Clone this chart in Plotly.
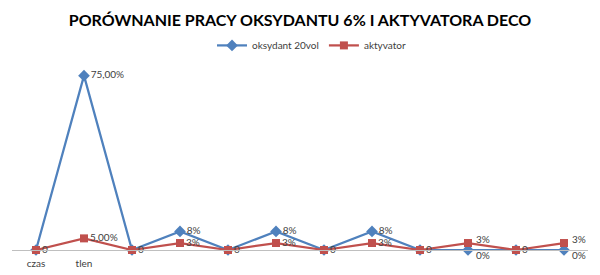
import plotly.graph_objects as go

categories = ["czas", "tlen", "c3", "c4", "c5", "c6", "c7", "c8", "c9", "c10", "c11", "c12"]
tick_labels = ["czas", "tlen", "", "", "", "", "", "", "", "", "", ""]
oksydant = [0, 0.75, 0, 0.08, 0, 0.08, 0, 0.08, 0, 0, 0, 0]
oksydant_labels = ["", "75,00%", "", "8%", "", "8%", "", "8%", "", "0%", "", "0%"]
aktywator = [0, 0.05, 0, 0.03, 0, 0.03, 0, 0.03, 0, 0.03, 0, 0.03]
aktywator_labels = ["0", "5,00%", "0", "3%", "0", "3%", "0", "3%", "0", "3%", "0", "3%"]

# labels that would collide are drawn as annotations with a small vertical nudge
shifted = [9, 11]
font_fam = "Lato, Open Sans, sans-serif"
lab_font = dict(family=font_fam, size=10, color="#404040")

blue_text = [("" if i in shifted else t) for i, t in enumerate(oksydant_labels)]
red_text = [("" if i in shifted else t) for i, t in enumerate(aktywator_labels)]

fig = go.Figure()
fig.add_trace(go.Scatter(
    x=categories, y=oksydant, name="oksydant 20vol", mode="lines+markers+text",
    line=dict(color="#4F81BD", width=2.25),
    marker=dict(symbol="diamond", size=9, color="#4F81BD"),
    text=blue_text, textposition="middle right", textfont=lab_font,
    cliponaxis=False,
))
fig.add_trace(go.Scatter(
    x=categories, y=aktywator, name="aktyvator", mode="lines+markers+text",
    line=dict(color="#C0504D", width=2.25),
    marker=dict(symbol="square", size=8, color="#C0504D"),
    text=red_text, textposition="middle right", textfont=lab_font,
    cliponaxis=False,
))

for i in shifted:
    fig.add_annotation(x=categories[i], y=aktywator[i], text=aktywator_labels[i],
                       showarrow=False, xanchor="left", yanchor="middle",
                       xshift=6, yshift=4, font=lab_font)
    fig.add_annotation(x=categories[i], y=oksydant[i], text=oksydant_labels[i],
                       showarrow=False, xanchor="left", yanchor="middle",
                       xshift=6, yshift=-5, font=lab_font)

fig.update_layout(
    width=600, height=275,
    margin=dict(l=12, r=12, t=64, b=25, autoexpand=False),
    paper_bgcolor="white", plot_bgcolor="white",
    title=dict(text="<b>PORÓWNANIE PRACY OKSYDANTU 6% I AKTYVATORA DECO</b>",
               x=0.5, xanchor="center", y=0.925, yanchor="middle",
               font=dict(family=font_fam, size=16, color="#000000")),
    legend=dict(orientation="h", x=0.52, xanchor="center", y=1.10, yanchor="middle",
                font=dict(family=font_fam, size=10, color="#404040"),
                itemwidth=30, bgcolor="rgba(0,0,0,0)"),
    xaxis=dict(type="category", range=[-0.5, 11.5], tickmode="array",
               tickvals=categories, ticktext=tick_labels, automargin=False,
               showgrid=False, showline=True, linecolor="#BFBFBF", linewidth=1,
               ticks="", zeroline=False, ticklabelstandoff=4,
               tickfont=dict(family=font_fam, size=10, color="#404040")),
    yaxis=dict(range=[0, 0.8], visible=False, showgrid=False, zeroline=False),
)

fig.write_html("out.html")
